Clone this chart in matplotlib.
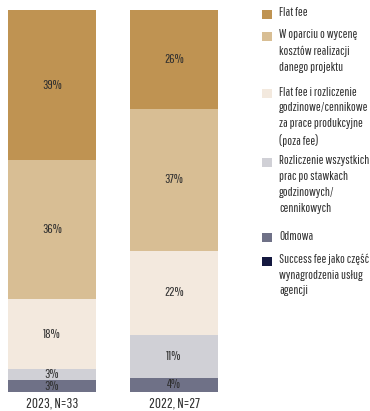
import matplotlib.pyplot as plt
import numpy as np
from matplotlib.patches import Rectangle

plt.rcParams['font.family'] = ['Pathway Gothic One', 'Oswald', 'DejaVu Sans']

years = ['2023, N=33', '2022, N=27']
totals = [33, 27]
categories = ['Flat fee',
              'W oparciu o wycenę\nkosztów realizacji\ndanego projektu',
              'Flat fee i rozliczenie\ngodzinowe/cennikowe\nza prace produkcyjne\n(poza fee)',
              'Rozliczenie wszystkich\nprac po stawkach\ngodzinowych/\ncennikowych',
              'Odmowa',
              'Success fee jako część\nwynagrodzenia usług\nagencji']
# number of answers per category, same order as categories
counts_2023 = [13, 12, 6, 1, 1, 0]
counts_2022 = [7, 10, 6, 3, 1, 0]
colors = ['#BF9352', '#D8BE94', '#F3E9DE', '#D0D0D6', '#6F7187', '#14183F']
txt_color = '#2f2f2f'

counts = np.array([counts_2023, counts_2022], dtype=float)
shares = counts / np.array(totals)[:, None] * 100

W, H = 370, 411
fig = plt.figure(figsize=(W / 100, H / 100), dpi=100)
w = 0.72
ax = fig.add_axes([8 / W, 19 / H, 210 / W, 382 / H])
x = np.arange(len(years))
bottom = np.zeros(len(years))
for i in [4, 3, 2, 1, 0]:  # stacked bottom to top
    vals = shares[:, i]
    ax.bar(x, vals, width=w, bottom=bottom, color=colors[i], linewidth=0)
    for j in range(len(years)):
        if vals[j] > 0:
            ax.text(x[j], bottom[j] + vals[j] / 2, f'{round(vals[j])}%',
                    ha='center', va='center', fontsize=9.5, color=txt_color)
    bottom += vals

ax.set_xlim(-w / 2, 1 + w / 2)
ax.set_ylim(0, 100)
ax.set_xticks(x)
ax.set_xticklabels(years, fontsize=10.5, color=txt_color)
ax.tick_params(axis='x', length=0, pad=3)
ax.set_yticks([])
for s in ax.spines.values():
    s.set_visible(False)

# legend drawn by hand: square + wrapped label
first_line_y = [15, 37, 94, 163, 238, 261]
for c, lab, yy in zip(colors, categories, first_line_y):
    fig.patches.append(Rectangle((262 / W, 1 - (yy + 4.5) / H), 10 / W, 9 / H,
                                 transform=fig.transFigure, color=c, lw=0))
    fig.text(279 / W, 1 - (yy - 7.5) / H, lab, ha='left', va='top', fontsize=9.2,
             color=txt_color, linespacing=1.52)

fig.savefig('out.png', dpi=100)
